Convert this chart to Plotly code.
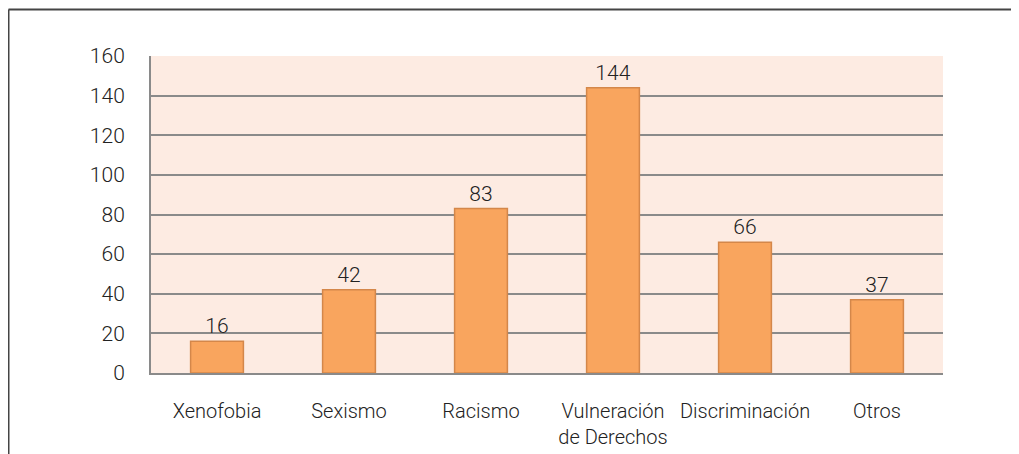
import plotly.graph_objects as go

categories = ["Xenofobia", "Sexismo", "Racismo", "Vulneración<br>de Derechos", "Discriminación", "Otros"]
values = [16, 42, 83, 144, 66, 37]
y_ticks = [0, 20, 40, 60, 80, 100, 120, 140, 160]

# page body has an 8px margin; compensate so the chart lands where the reference is
W, H = 1011, 446
ml, mr, mt, mb = 143, 76, 48, 81
pw, ph = W - ml - mr, H - mt - mb

font_family = "Roboto"

fig = go.Figure(go.Bar(
    x=categories, y=values,
    width=0.4,
    marker=dict(color="#f9a55e", line=dict(color="#d4874a", width=1.5)),
    text=[str(v) for v in values],
    textposition="outside",
    textfont=dict(size=21, color="#222222", family=font_family, weight=300),
    cliponaxis=False,
))

# outer frame (top and left edges)
fx0 = (0.5 - ml) / pw
fx1 = (W + 10 - ml) / pw
fy_top = (H - mb - 1.5) / ph
fy_bot = -(mb + 10) / ph
fig.add_shape(type="line", xref="paper", yref="paper", x0=fx0, x1=fx1, y0=fy_top, y1=fy_top,
              line=dict(color="#444444", width=2))
fig.add_shape(type="line", xref="paper", yref="paper", x0=fx0, x1=fx0, y0=fy_top, y1=fy_bot,
              line=dict(color="#444444", width=2))

fig.update_layout(
    width=W, height=H,
    margin=dict(l=ml, r=mr, t=mt, b=mb, autoexpand=False),
    paper_bgcolor="white",
    plot_bgcolor="#fdebe2",
    showlegend=False,
    font=dict(family=font_family, color="#222222"),
)
fig.update_xaxes(
    showline=True, linecolor="#8a8a8a", linewidth=2,
    showgrid=False, ticks="", automargin=False,
    tickfont=dict(size=20, family=font_family, weight=300, color="#222222"),
    ticklabelstandoff=19,
)
fig.update_yaxes(
    range=[0, 160], tickvals=y_ticks, ticktext=[str(t) for t in y_ticks],
    showline=True, linecolor="#8a8a8a", linewidth=2,
    showgrid=True, gridcolor="#8a8a8a", gridwidth=1.5,
    zeroline=False, ticks="", automargin=False,
    tickfont=dict(size=21, family=font_family, weight=300, color="#222222"),
    ticklabelstandoff=20,
)

fig.write_html("out.html")
